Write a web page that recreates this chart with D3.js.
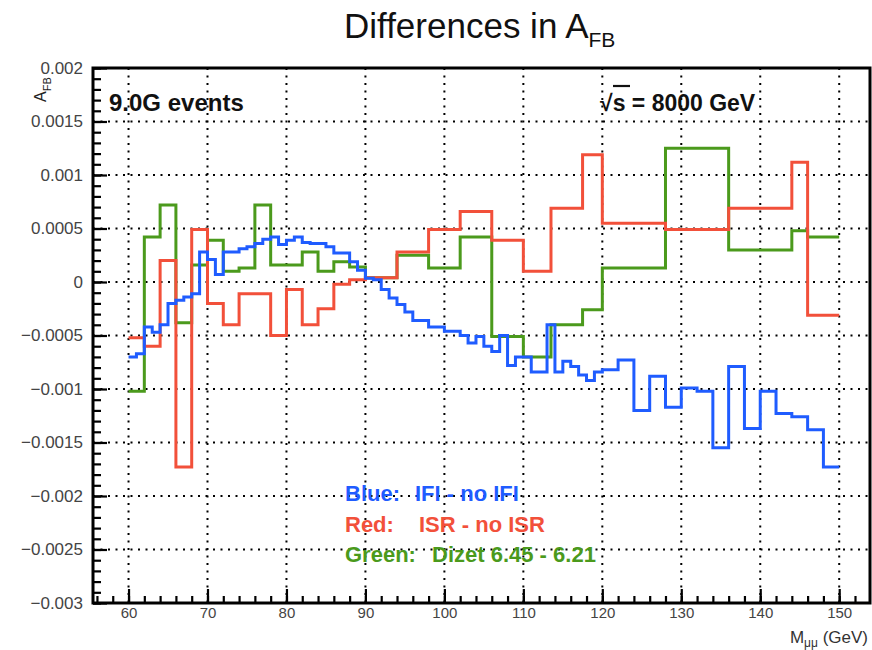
<!DOCTYPE html>
<html>
<head>
<meta charset="utf-8">
<script src="https://cdn.jsdelivr.net/npm/d3@7"></script>
<style>
  body { margin: 0; background: #fff; }
  text { font-family: "Liberation Sans", Arial, Helvetica, sans-serif; }
</style>
</head>
<body>
<svg id="chart" width="872" height="650"></svg>
<script>
// bin edges (GeV) and values
var blueEdges = [60,61,62,63,64,65,66,67,68,69,70,71,72,73,74,75,76,77,78,79,
                 80,81,82,83,84,85,86,87,88,89,90,91,92,93,94,95,96,97,98,99,
                 100,101,102,103,104,105,106,107,108,109,110,111,112,113,114,115,116,117,118,119,
                 120,122,124,126,128,130,132,134,136,138,140,142,144,146,148,150];
var blueValues = [-0.00070,-0.00067,-0.00042,-0.00047,-0.00040,-0.00020,-0.00017,-0.00014,-0.00011,0.00028,
                  0.00021,0.00007,0.00028,0.00028,0.00031,0.00033,0.00036,0.00040,0.00042,0.00035,
                  0.00039,0.00042,0.00037,0.00036,0.00036,0.00033,0.00027,0.00027,0.00019,0.00011,
                  0.000035,0.00002,-0.00007,-0.00015,-0.00021,-0.00028,-0.00036,-0.00036,-0.00042,-0.00042,
                  -0.00046,-0.00046,-0.00050,-0.00057,-0.00051,-0.00060,-0.00065,-0.00050,-0.00078,-0.00070,
                  -0.00070,-0.00084,-0.00084,-0.00040,-0.00084,-0.00074,-0.00079,-0.00087,-0.00092,-0.00084,
                  -0.00082,-0.00073,-0.00120,-0.00088,-0.00117,-0.00099,-0.00102,-0.00155,-0.00079,-0.00137,
                  -0.00102,-0.00123,-0.00126,-0.00138,-0.00173];

var wideEdges = [60,62,64,66,68,70,72,74,76,78,80,82,84,86,88,90,94,98,102,106,110,113.5,117.5,120,128,136,144,146,150];
var redValues = [-0.00052,-0.00060,0.00020,-0.00173,0.00049,-0.00020,-0.00040,-0.00011,-0.00011,-0.00050,
                 -0.00007,-0.00040,-0.00025,-0.00002,0.00002,0.00004,0.00028,0.00049,0.00066,0.00039,
                 0.00010,0.00069,0.00119,0.00055,0.00049,0.00069,0.00112,-0.00031];
var greenValues = [-0.00102,0.00042,0.00072,-0.00038,0.00016,0.00039,0.00010,0.00013,0.00072,0.00016,
                   0.00016,0.00028,0.00010,0.00019,0.00014,0.00004,0.00025,0.00013,0.00042,-0.00051,
                   -0.00070,-0.00040,-0.00026,0.00013,0.00125,0.00030,0.00048,0.00042];

var xTicks = [60,70,80,90,100,110,120,130,140,150];
var yTicks = [0.002,0.0015,0.001,0.0005,0,-0.0005,-0.001,-0.0015,-0.002,-0.0025,-0.003];
var yTickLabels = ["0.002","0.0015","0.001","0.0005","0","\u22120.0005","\u22120.001","\u22120.0015","\u22120.002","\u22120.0025","\u22120.003"];

var frame = {left: 93, right: 870, top: 68, bottom: 603};

var svg = d3.select("#chart");

var x = d3.scaleLinear().domain([55.5, 153.9]).range([frame.left, frame.right]);
var y = d3.scaleLinear().domain([-0.003, 0.002]).range([frame.bottom, frame.top]);

// grid
var grid = svg.append("g").attr("stroke", "#000").attr("stroke-width", 2)
    .attr("stroke-dasharray", "2,5.5");
grid.selectAll(".gx").data(xTicks).enter().append("line")
    .attr("x1", function(d){ return x(d); }).attr("x2", function(d){ return x(d); })
    .attr("y1", frame.top).attr("y2", frame.bottom);
grid.selectAll(".gy").data(yTicks.slice(1, -1)).enter().append("line")
    .attr("y1", function(d){ return y(d); }).attr("y2", function(d){ return y(d); })
    .attr("x1", frame.left).attr("x2", frame.right);

// histograms
var step = d3.line()
    .x(function(d){ return x(d[0]); })
    .y(function(d){ return y(d[1]); })
    .curve(d3.curveStepAfter);

function histPoints(edges, vals) {
  var pts = vals.map(function(v, i){ return [edges[i], v]; });
  pts.push([edges[edges.length - 1], vals[vals.length - 1]]);
  return pts;
}

var series = [
  {edges: wideEdges, vals: greenValues, color: "#4b9a1c"},
  {edges: wideEdges, vals: redValues, color: "#f2503a"},
  {edges: blueEdges, vals: blueValues, color: "#1f5cff"}
];
svg.selectAll(".hist").data(series).enter().append("path")
    .attr("fill", "none")
    .attr("stroke", function(d){ return d.color; })
    .attr("stroke-width", 3)
    .attr("d", function(d){ return step(histPoints(d.edges, d.vals)); });

// axes
var xa = svg.append("g").attr("transform", "translate(0," + frame.bottom + ")")
    .call(d3.axisBottom(x).tickValues(xTicks).tickSize(-14).tickPadding(4));
svg.append("g").attr("transform", "translate(0," + frame.bottom + ")")
    .call(d3.axisBottom(x).tickValues(d3.range(56, 154, 2)).tickSize(-7).tickFormat(""));
var ya = svg.append("g").attr("transform", "translate(" + frame.left + ",0)")
    .call(d3.axisLeft(y).tickValues(yTicks).tickSize(-14).tickPadding(10)
      .tickFormat(function(d, i){ return yTickLabels[i]; }));
svg.append("g").attr("transform", "translate(" + frame.left + ",0)")
    .call(d3.axisLeft(y).tickValues(d3.range(-0.003, 0.00201, 0.0001)).tickSize(-8).tickFormat(""));

svg.selectAll(".domain").remove();
svg.selectAll(".tick line").attr("stroke", "#000").attr("stroke-width", 2.2);
xa.selectAll(".tick text").attr("fill", "#444").style("font-size", "15px");
ya.selectAll(".tick text").attr("fill", "#444").style("font-size", "17px");

// frame
svg.append("rect")
    .attr("x", frame.left).attr("y", frame.top)
    .attr("width", frame.right - frame.left).attr("height", frame.bottom - frame.top)
    .attr("fill", "none").attr("stroke", "#000").attr("stroke-width", 3);

// title
var title = svg.append("text").attr("x", 344).attr("y", 38)
    .style("font-size", "35px").attr("fill", "#111");
title.append("tspan").text("Differences in A");
title.append("tspan").attr("dy", 9).style("font-size", "21px").text("FB");

// y axis title
var yt = svg.append("text").attr("transform", "translate(46,102) rotate(-90)")
    .style("font-size", "16px").attr("fill", "#222");
yt.append("tspan").text("A");
yt.append("tspan").attr("dy", 5).style("font-size", "11px").text("FB");

// x axis title
var xt = svg.append("text").attr("x", 868).attr("y", 643).attr("text-anchor", "end")
    .style("font-size", "17px").attr("fill", "#333");
xt.append("tspan").text("M");
xt.append("tspan").attr("dy", 4).style("font-size", "12px").text("\u03bc\u03bc");
xt.append("tspan").attr("dy", -4).text(" (GeV)");

// labels in the frame
svg.append("text").attr("x", 109).attr("y", 111)
    .style("font-size", "24px").style("font-weight", "bold").attr("fill", "#111")
    .text("9.0G events");
var rs = svg.append("text").attr("x", 600).attr("y", 111)
    .style("font-size", "23px").style("font-weight", "bold").attr("fill", "#111");
rs.append("tspan").text("\u221a");
rs.append("tspan").text("s");
rs.append("tspan").text(" = 8000 GeV");
svg.append("line").attr("x1", 613).attr("x2", 630).attr("y1", 86).attr("y2", 86)
    .attr("stroke", "#111").attr("stroke-width", 2.2);

// legend text
var legend = [
  {label: "Blue:", desc: "IFI - no IFI", color: "#1f5cff", dx: 70},
  {label: "Red:", desc: "ISR - no ISR", color: "#f2503a", dx: 74},
  {label: "Green:", desc: "Dizet 6.45 - 6.21", color: "#4b9a1c", dx: 87}
];
legend.forEach(function(l, i) {
  var yy = 501 + i * 30.5;
  svg.append("text").attr("x", 345).attr("y", yy).style("font-size", "22px")
      .style("font-weight", "bold").attr("fill", l.color).text(l.label);
  svg.append("text").attr("x", 345 + l.dx).attr("y", yy).style("font-size", "22px")
      .style("font-weight", "bold").attr("fill", l.color).text(l.desc);
});
</script>
</body>
</html>
